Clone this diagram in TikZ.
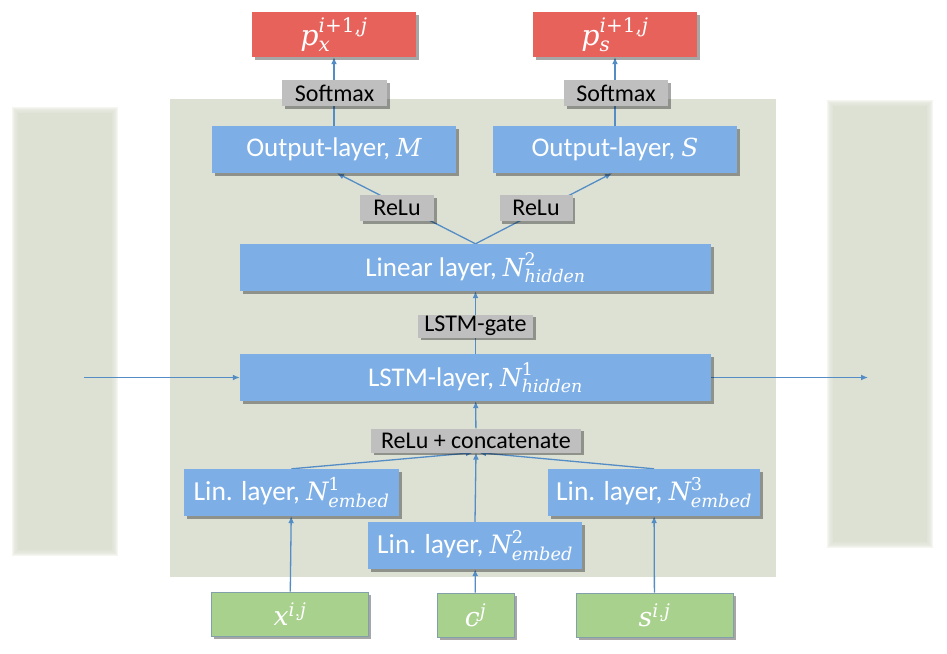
\documentclass[tikz,border=0pt]{standalone}
\usepackage{amsmath}
\usepackage{fontspec}
\setmainfont{Carlito}
\newfontfamily\mathf{DejaVu Serif}[Scale=0.92]
\newcommand{\mi}[1]{\text{\mathf\itshape #1}}
\newcommand{\mr}[1]{\text{\mathf #1}}
\usetikzlibrary{arrows.meta,shadows}
\definecolor{panelc}{RGB}{221,225,212}
\definecolor{bluec}{RGB}{125,175,230}
\definecolor{redc}{RGB}{232,98,92}
\definecolor{grayc}{RGB}{191,191,191}
\definecolor{greenc}{RGB}{169,209,142}
\definecolor{greenb}{RGB}{130,160,170}
\definecolor{arrc}{RGB}{84,141,197}
\pgfdeclarelayer{bg}
\pgfdeclarelayer{edges}
\pgfsetlayers{bg,edges,main}
\tikzset{
  boxbase/.style={rectangle, inner sep=0pt, align=center,
    drop shadow={shadow xshift=2.5pt, shadow yshift=-2.5pt, fill=black, opacity=0.35}},
  bluebox/.style={boxbase, fill=bluec, text=white, font=\fontsize{27}{31}\selectfont, minimum height=47pt},
  linbox/.style={bluebox, font=\fontsize{27.5}{31}\selectfont},
  graybox/.style={boxbase, fill=grayc, text=black, font=\fontsize{24}{28}\selectfont},
  redbox/.style={boxbase, fill=redc, text=white, font=\fontsize{31}{35}\selectfont, minimum width=164pt, minimum height=45pt},
  greenbox/.style={boxbase, fill=greenc, draw=greenb, line width=0.8pt, text=white, font=\fontsize{29}{33}\selectfont, minimum height=44pt},
  arr/.style={draw=arrc, line width=1.3pt, -{Latex[length=7pt,width=6pt]}},
  ghost/.style={fill=panelc}
}
\begin{document}
\begin{tikzpicture}[x=1pt,y=-1pt]
\useasboundingbox (0,0) rectangle (947,653);
\begin{pgfonlayer}{bg}
  % blurred side panels
  \foreach \d in {3,2,...,-3} {
    \fill[ghost, opacity=0.3] (15-\d,110-\d) rectangle (115+\d,553+\d);
    \fill[ghost, opacity=0.3] (830-\d,103-\d) rectangle (930+\d,545+\d);
  }
  \fill[ghost] (18,113) rectangle (112,550);
  \fill[ghost] (833,106) rectangle (927,542);
  % main panel
  \fill[panelc] (170,99) rectangle (776,577);
\end{pgfonlayer}

% output probabilities
\node[redbox] (redL) at (334,34.5) {$\mi{p}^{\mi{i}\mr{+1,}\mi{j}}_{\mi{x}}$};
\node[redbox] (redR) at (615,34.5) {$\mi{p}^{\mi{i}\mr{+1,}\mi{j}}_{\mi{s}}$};
\node[graybox, minimum width=105pt, minimum height=26pt] (smL) at (334.5,93) {Softmax};
\node[graybox, minimum width=104pt, minimum height=26pt] (smR) at (616,93) {Softmax};
\node[bluebox, minimum width=244pt] (outL) at (334,149.5) {Output-layer, $\mi{M}$};
\node[bluebox, minimum width=244pt] (outR) at (615,149.5) {Output-layer, $\mi{S}$};
\node[graybox, minimum width=74pt, minimum height=26pt] (reluL) at (397,208) {ReLu};
\node[graybox, minimum width=73pt, minimum height=26pt] (reluR) at (536,208) {ReLu};
\node[bluebox, minimum width=471pt] (lin) at (475.5,267.5) {Linear layer, $\mi{N}^{\mr{2}}_{\mi{hidden}}$};
\node[graybox, minimum width=115pt, minimum height=23pt] (gate) at (475.5,326) {LSTM-gate};
\node[bluebox, minimum width=471pt] (lstm) at (475.5,377.5) {LSTM-layer, $\mi{N}^{\mr{1}}_{\mi{hidden}}$};
\node[graybox, minimum width=210pt, minimum height=24pt] (rc) at (476,440.5) {ReLu + concatenate};
\node[linbox, minimum width=215pt] (lin1) at (291.5,492.5) {Lin. layer, $\mi{N}^{\mr{1}}_{\mi{embed}}$};
\node[linbox, minimum width=214pt] (lin2) at (475,545.5) {Lin. layer, $\mi{N}^{\mr{2}}_{\mi{embed}}$};
\node[linbox, minimum width=212pt] (lin3) at (654,492.5) {Lin. layer, $\mi{N}^{\mr{3}}_{\mi{embed}}$};
\node[greenbox, minimum width=157pt] (xin) at (290,614) {$\mi{x}^{\mi{i},\mi{j}}$};
\node[greenbox, minimum width=77pt] (cin) at (475.5,615) {$\mi{c}^{\mi{j}}$};
\node[greenbox, minimum width=157pt] (sin) at (654.5,615) {$\mi{s}^{\mi{i},\mi{j}}$};
\coordinate (lstmin) at (84,377.5);
\coordinate (lstmout) at (868,377.5);

\begin{pgfonlayer}{edges}
  \draw[arr] (xin) -- (lin1);
  \draw[arr] (cin) -- (lin2);
  \draw[arr] (sin) -- (lin3);
  \draw[arr] (lin1.north) -- ([xshift=-3pt]rc.south);
  \draw[arr] (lin2.north) -- (rc.south);
  \draw[arr] (lin3.north) -- ([xshift=3pt]rc.south);
  \draw[arr] (rc) -- (lstm);
  \draw[arr] (lstm) -- (lin);
  \draw[arr] (lstmin) -- (lstm.west);
  \draw[arr] (lstm.east) -- (lstmout);
  \draw[arr] (lin.north) -- ([xshift=3pt]outL.south);
  \draw[arr] (lin.north) -- ([xshift=-3pt]outR.south);
  \draw[arr] (outL) -- (redL);
  \draw[arr] (outR) -- (redR);
\end{pgfonlayer}
\end{tikzpicture}
\end{document}
